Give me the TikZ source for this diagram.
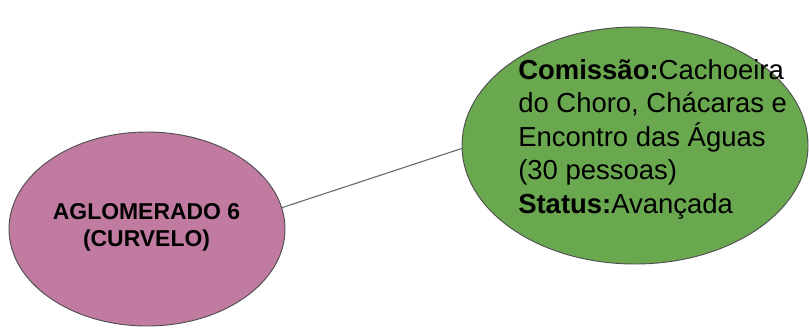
\documentclass[tikz,border=0pt]{standalone}
\usepackage{fontspec}
\setmainfont{Liberation Sans}
\usetikzlibrary{shapes.geometric}
\definecolor{bubblepink}{HTML}{C27BA0}
\definecolor{bubblegreen}{HTML}{6AA84F}
\definecolor{rimgray}{HTML}{4F4F4F}
\definecolor{linkgray}{HTML}{666666}
\begin{document}
\begin{tikzpicture}[x=0.75pt,y=-0.75pt,
  bubble/.style={ellipse, draw=rimgray, line width=0.7pt, inner sep=0pt},
  label/.style={inner sep=0pt, text=black},
  link/.style={draw=linkgray, line width=0.8pt}]
\useasboundingbox (0,0) rectangle (809,329);

% the two ellipses
\node[bubble, fill=bubblepink, minimum width=207pt, minimum height=145.5pt] (aglo) at (147,229) {};
\node[bubble, fill=bubblegreen, minimum width=259.5pt, minimum height=177.75pt] (com) at (635,145.5) {};

% connector between them
\draw[link] (aglo.9) -- (com.181);

% texts
\node[label, font=\bfseries\fontsize{17.2}{19.8}\selectfont, align=center, anchor=north] (aglotxt) at (146.5,203.5) {AGLOMERADO 6\\(CURVELO)};
\node[label, font=\fontsize{20.6}{25.1}\selectfont, align=left, anchor=north west] (comtxt) at (518,59)
  {\textbf{Comissão:}Cachoeira\\do Choro, Chácaras e\\Encontro das Águas\\(30 pessoas)\\\textbf{Status:}Avançada};
\end{tikzpicture}
\end{document}
